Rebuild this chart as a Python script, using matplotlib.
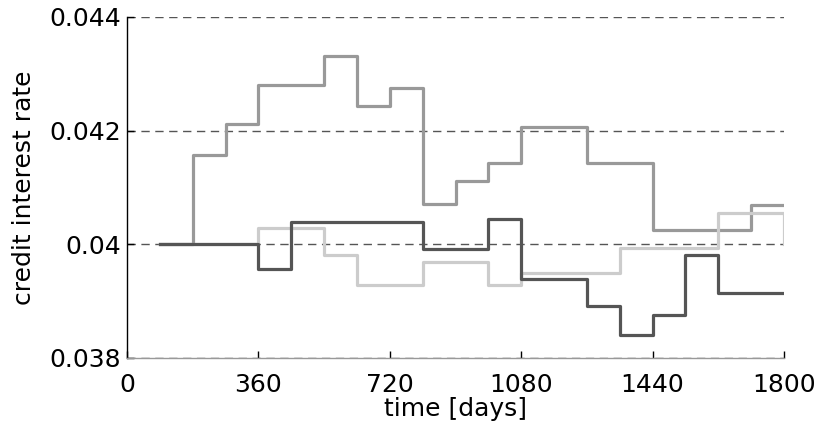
import matplotlib
matplotlib.use("Agg")
import matplotlib.pyplot as plt

# data (steps-post: each value holds from its x until the next x)
medium_x = [90, 180, 270, 360, 540, 630, 720, 810, 900, 990, 1080, 1260, 1440, 1710, 1800]
medium_y = [0.04, 0.04158, 0.04212, 0.04281, 0.04332, 0.04244, 0.04275, 0.04071,
            0.04111, 0.04143, 0.04206, 0.04143, 0.04026, 0.04070, 0.04070]

light_x = [90, 360, 540, 630, 810, 990, 1080, 1350, 1620, 1800]
light_y = [0.04, 0.04029, 0.03981, 0.03929, 0.03969, 0.03929, 0.03950, 0.03994, 0.04056, 0.04000]

dark_x = [90, 360, 450, 810, 990, 1080, 1260, 1350, 1440, 1530, 1620, 1800]
dark_y = [0.04, 0.03957, 0.04040, 0.03992, 0.04045, 0.03939, 0.03892, 0.03840,
          0.03875, 0.03982, 0.03915, 0.03915]

x_ticks = [0, 360, 720, 1080, 1440, 1800]
y_ticks = [0.038, 0.04, 0.042, 0.044]
y_tick_labels = ["0.038", "0.04", "0.042", "0.044"]

plt.rcParams['font.family'] = ['DejaVu Sans']
fig = plt.figure(figsize=(8.17, 4.29), dpi=100)
ax = fig.add_axes([127/817, 1-358/429, (784-127)/817, (358-17)/429])

ax.set_xlim(0, 1800)
ax.set_ylim(0.038, 0.044)

for yv in y_ticks:
    ax.axhline(yv, color='#555555', lw=1.0, ls=(0, (6, 4)), zorder=1)

ax.plot(medium_x, medium_y, drawstyle='steps-post', color='#999999', lw=2.3, zorder=3)
ax.plot(light_x, light_y, drawstyle='steps-post', color='#cccccc', lw=2.3, zorder=3)
ax.plot(dark_x, dark_y, drawstyle='steps-post', color='#555555', lw=2.3, zorder=4)

for s in ['top', 'right']:
    ax.spines[s].set_visible(False)
ax.spines['left'].set_color('black')
ax.spines['left'].set_linewidth(1.0)
ax.spines['bottom'].set_color('#999999')
ax.spines['bottom'].set_linewidth(1.0)

ax.set_xticks(x_ticks)
ax.set_yticks(y_ticks)
ax.set_yticklabels(y_tick_labels)
ax.tick_params(axis='both', direction='in', labelsize=18, length=5, width=1, color='black', pad=4)
ax.tick_params(axis='x', pad=11)

ax.set_xlabel('time [days]', fontsize=18, labelpad=0)
ax.set_ylabel('credit interest rate', fontsize=18, labelpad=10)

fig.savefig('out.png', dpi=100)
